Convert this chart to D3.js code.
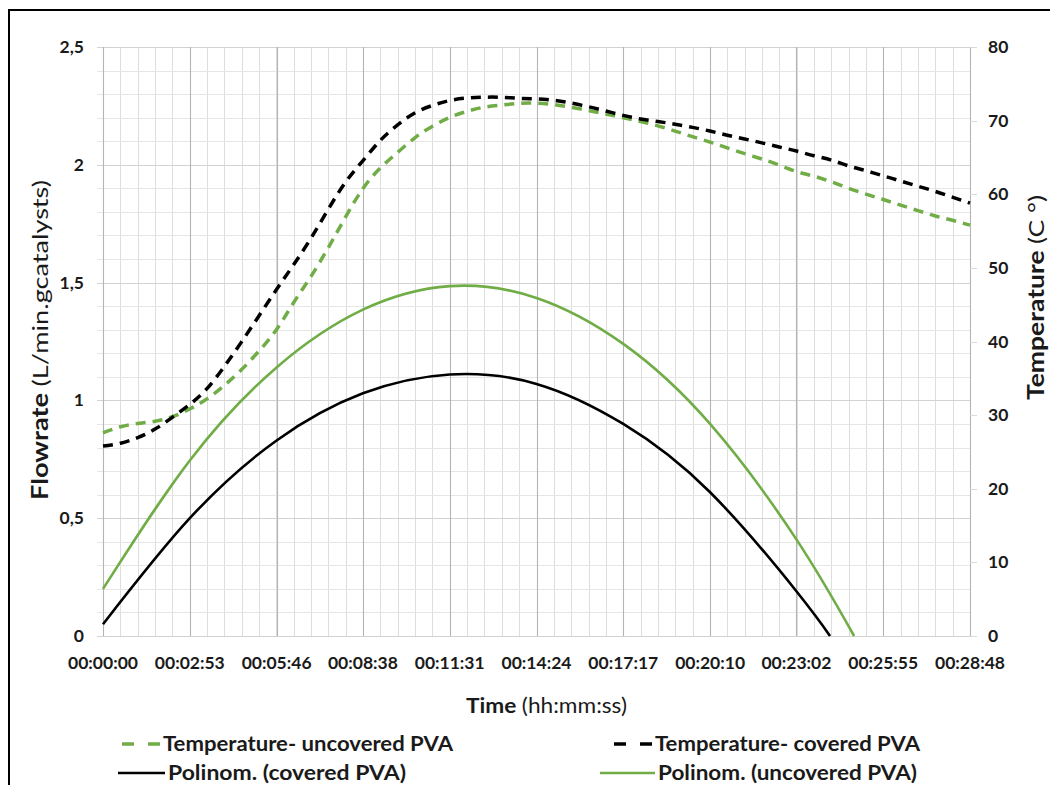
<!DOCTYPE html>
<html>
<head>
<meta charset="utf-8">
<script src="https://cdn.jsdelivr.net/npm/d3@7"></script>
<style>
  html, body { margin: 0; padding: 0; background: #fff; }
  svg { display: block; font-family: Lato, "Open Sans", sans-serif; }
</style>
</head>
<body>
<svg id="chart" width="1050" height="785"></svg>
<script>
// Time axis (seconds) and its hh:mm:ss labels
const tickSeconds = [0, 173, 346, 518, 691, 864, 1037, 1210, 1382, 1555, 1728];
const tickLabels = ["00:00:00", "00:02:53", "00:05:46", "00:08:38", "00:11:31",
  "00:14:24", "00:17:17", "00:20:10", "00:23:02", "00:25:55", "00:28:48"];

// Left axis (flowrate) and right axis (temperature) ticks
const flowTicks = [0, 0.5, 1, 1.5, 2, 2.5];
const flowTickLabels = ["0", "0,5", "1", "1,5", "2", "2,5"];
const tempTicks = [0, 10, 20, 30, 40, 50, 60, 70, 80];

// Temperature readings (°C)
const tempTimes = [0, 35, 69, 104, 138, 173, 207, 242, 276, 311, 346, 380, 415, 449, 484,
  518, 553, 588, 622, 657, 691, 726, 760, 795, 829, 864, 899, 933, 968, 1002, 1037,
  1071, 1106, 1140, 1175, 1210, 1244, 1279, 1313, 1348, 1382, 1417, 1452, 1486, 1521,
  1555, 1590, 1624, 1659, 1693, 1728];
const tempUncovered = [27.6, 28.5, 28.9, 29.1, 29.7, 30.8, 32.1, 34.0, 36.1, 38.7, 41.4,
  45.4, 48.8, 52.7, 57.0, 61.0, 63.7, 65.7, 67.8, 69.3, 70.5, 71.3, 71.9, 72.1, 72.4,
  72.4, 72.2, 71.8, 71.4, 70.9, 70.4, 69.9, 69.3, 68.6, 67.8, 67.1, 66.3, 65.5, 64.8,
  64.0, 63.0, 62.5, 61.7, 60.8, 60.0, 59.3, 58.5, 57.8, 57.0, 56.5, 55.8];
const tempCovered = [25.8, 26.1, 26.9, 28.0, 29.7, 31.4, 33.4, 36.6, 39.9, 43.5, 47.1,
  50.4, 54.0, 58.0, 61.9, 64.5, 67.5, 69.5, 71.2, 72.1, 72.8, 73.1, 73.2, 73.2, 73.0,
  73.0, 72.8, 72.4, 71.9, 71.3, 70.7, 70.2, 69.9, 69.5, 69.1, 68.6, 68.0, 67.5, 67.0,
  66.4, 65.9, 65.2, 64.7, 63.8, 63.2, 62.5, 61.8, 61.1, 60.4, 59.6, 58.8];

// Polynomial trend of flowrate (L/min.gcatalysts)
const polyCoveredTimes = [0, 173, 346, 518, 691, 864, 1037, 1210, 1382, 1449];
const polyCovered = [0.05, 0.50, 0.83, 1.03, 1.11, 1.07, 0.90, 0.61, 0.19, 0];
const polyUncoveredTimes = [0, 173, 346, 518, 691, 864, 1037, 1210, 1382, 1497];
const polyUncovered = [0.20, 0.745, 1.14, 1.385, 1.485, 1.435, 1.24, 0.90, 0.41, 0];

const GREEN = "#70ad47";
const BLACK = "#000000";
const INK = "#1a1a1a";

const svg = d3.select("#chart");
const plot = { left: 103, right: 970, top: 47, bottom: 636 };

const x = d3.scaleLinear().domain([0, 1728]).range([plot.left, plot.right]);
const yFlow = d3.scaleLinear().domain([0, 2.5]).range([plot.bottom, plot.top]);
const yTemp = d3.scaleLinear().domain([0, 80]).range([plot.bottom, plot.top]);

// Outer frame
svg.append("path")
  .attr("d", "M9,790 V10 H1055")
  .attr("fill", "none").attr("stroke", "#000").attr("stroke-width", 2);

const grid = svg.append("g");

// Minor vertical grid (five per labelled step)
const minorX = d3.range(0, 51).map(i => i * 1728 / 50);
grid.selectAll(".vminor").data(minorX).join("line")
  .attr("x1", d => Math.round(x(d)) + 0.5).attr("x2", d => Math.round(x(d)) + 0.5)
  .attr("y1", plot.top).attr("y2", plot.bottom)
  .attr("stroke", "#dedede").attr("stroke-width", 1);

// Minor horizontal grid every 0.1
const minorY = d3.range(0, 26).map(i => i * 0.1);
grid.selectAll(".hminor").data(minorY).join("line")
  .attr("x1", plot.left - 6).attr("x2", plot.right)
  .attr("y1", d => Math.round(yFlow(d)) + 0.5).attr("y2", d => Math.round(yFlow(d)) + 0.5)
  .attr("stroke", "#e6e6e6").attr("stroke-width", 1);

// Major horizontal grid
grid.selectAll(".hmajor").data(flowTicks).join("line")
  .attr("x1", plot.left - 6).attr("x2", plot.right)
  .attr("y1", d => Math.round(yFlow(d)) + 0.5).attr("y2", d => Math.round(yFlow(d)) + 0.5)
  .attr("stroke", "#d2d2d2").attr("stroke-width", 1.2);

// Major vertical grid at labelled times
grid.selectAll(".vmajor").data(tickSeconds).join("line")
  .attr("x1", d => Math.round(x(d)) + 0.5).attr("x2", d => Math.round(x(d)) + 0.5)
  .attr("y1", plot.top).attr("y2", plot.bottom)
  .attr("stroke", "#b4b4b4").attr("stroke-width", 1.1);

// Right axis tick marks
grid.selectAll(".rtick").data(tempTicks).join("line")
  .attr("x1", plot.right).attr("x2", plot.right + 7)
  .attr("y1", d => Math.round(yTemp(d)) + 0.5).attr("y2", d => Math.round(yTemp(d)) + 0.5)
  .attr("stroke", "#d9d9d9").attr("stroke-width", 1);

// Axis labels
const tickFont = { size: 17.5, weight: 700 };

svg.append("g").selectAll("text").data(flowTicks).join("text")
  .attr("x", 84).attr("y", d => yFlow(d) + 6)
  .attr("text-anchor", "end")
  .attr("font-size", tickFont.size).attr("font-weight", tickFont.weight)
  .attr("fill", INK)
  .text((d, i) => flowTickLabels[i]);

svg.append("g").selectAll("text").data(tempTicks).join("text")
  .attr("x", 988).attr("y", d => yTemp(d) + 6)
  .attr("text-anchor", "start")
  .attr("font-size", tickFont.size).attr("font-weight", tickFont.weight)
  .attr("fill", INK)
  .text(d => d);

svg.append("g").selectAll("text").data(tickSeconds).join("text")
  .attr("x", d => x(d)).attr("y", 669)
  .attr("text-anchor", "middle")
  .attr("font-size", tickFont.size).attr("font-weight", tickFont.weight)
  .attr("fill", INK)
  .text((d, i) => tickLabels[i]);

// Axis titles
const leftTitle = svg.append("text")
  .attr("transform", "translate(48,500) rotate(-90)")
  .attr("text-anchor", "start").attr("font-size", 22).attr("fill", INK)
  .attr("textLength", 320).attr("lengthAdjust", "spacingAndGlyphs");
leftTitle.append("tspan").attr("font-weight", 700).text("Flowrate ");
leftTitle.append("tspan").attr("font-weight", 400).text("(L/min.gcatalysts)");

const rightTitle = svg.append("text")
  .attr("transform", "translate(1044,400) rotate(-90)")
  .attr("text-anchor", "start").attr("font-size", 22).attr("fill", INK)
  .attr("textLength", 205).attr("lengthAdjust", "spacingAndGlyphs");
rightTitle.append("tspan").attr("font-weight", 700).text("Temperature ");
rightTitle.append("tspan").attr("font-weight", 400).text("(C\u00a0°)");

const bottomTitle = svg.append("text")
  .attr("x", 466).attr("y", 713)
  .attr("text-anchor", "start").attr("font-size", 21).attr("fill", INK)
  .attr("textLength", 161).attr("lengthAdjust", "spacingAndGlyphs");
bottomTitle.append("tspan").attr("font-weight", 700).text("Time ");
bottomTitle.append("tspan").attr("font-weight", 400).text(" (hh:mm:ss)");

// Series
const series = svg.append("g");

const tempLine = d3.line().curve(d3.curveBasis)
  .x(d => x(d[0])).y(d => yTemp(d[1]));
const flowLine = d3.line().curve(d3.curveNatural)
  .x(d => x(d[0])).y(d => yFlow(d[1]));

series.append("path")
  .datum(polyUncoveredTimes.map((t, i) => [t, polyUncovered[i]]))
  .attr("d", flowLine).attr("fill", "none")
  .attr("stroke", GREEN).attr("stroke-width", 2.6);

series.append("path")
  .datum(polyCoveredTimes.map((t, i) => [t, polyCovered[i]]))
  .attr("d", flowLine).attr("fill", "none")
  .attr("stroke", BLACK).attr("stroke-width", 2.6);

series.append("path")
  .datum(tempTimes.map((t, i) => [t, tempUncovered[i]]))
  .attr("d", tempLine).attr("fill", "none")
  .attr("stroke", GREEN).attr("stroke-width", 3.5)
  .attr("stroke-dasharray", "10,7");

series.append("path")
  .datum(tempTimes.map((t, i) => [t, tempCovered[i]]))
  .attr("d", tempLine).attr("fill", "none")
  .attr("stroke", BLACK).attr("stroke-width", 3.5)
  .attr("stroke-dasharray", "10,7");

// Legend
const legendItems = [
  { label: "Temperature- uncovered PVA", color: GREEN, dash: "12,14", x: 122, y: 744, len: 38, w: 290 },
  { label: "Temperature- covered PVA", color: BLACK, dash: "12,14", x: 614, y: 744, len: 38, w: 265 },
  { label: "Polinom. (covered PVA)", color: BLACK, dash: null, x: 118, y: 773, len: 47, w: 238 },
  { label: "Polinom. (uncovered PVA)", color: GREEN, dash: null, x: 600, y: 773, len: 55, w: 259 }
];
const legend = svg.append("g");
const li = legend.selectAll("g").data(legendItems).join("g");
li.append("line")
  .attr("x1", d => d.x).attr("x2", d => d.x + d.len)
  .attr("y1", d => d.y).attr("y2", d => d.y)
  .attr("stroke", d => d.color).attr("stroke-width", d => d.dash ? 3.5 : 2.6)
  .attr("stroke-dasharray", d => d.dash);
li.append("text")
  .attr("x", d => d.x + d.len + 3).attr("y", d => d.y + 7)
  .attr("font-size", 20).attr("font-weight", 700).attr("fill", INK)
  .attr("textLength", d => d.w).attr("lengthAdjust", "spacingAndGlyphs")
  .text(d => d.label);
</script>
</body>
</html>
